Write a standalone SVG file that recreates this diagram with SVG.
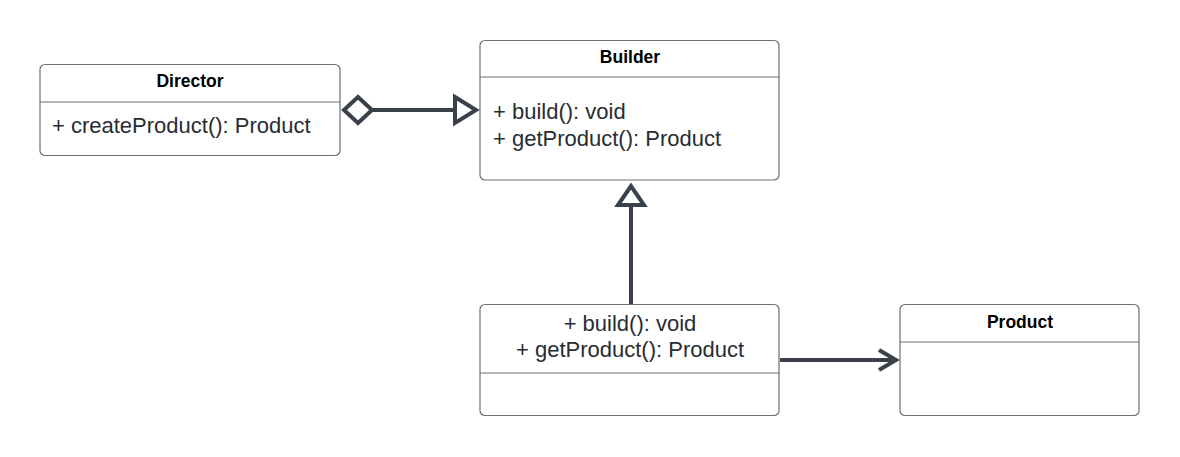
<svg xmlns="http://www.w3.org/2000/svg" width="1180" height="457" viewBox="0 0 1180 457">
<style>
.box{fill:#fff;stroke:#6b7078;stroke-width:1.2}
.div{stroke:#6b7078;stroke-width:1.2}
.title{font-family:"Liberation Sans",Arial,sans-serif;font-weight:bold;font-size:17.5px;fill:#000;text-anchor:middle}
.body{font-family:"Liberation Sans",Arial,sans-serif;font-size:22px;fill:#282c33}
.conn{fill:none;stroke:#3a414b;stroke-width:4;stroke-linejoin:miter}
</style>
<rect width="1180" height="457" fill="#fff"/>
<g id="director">
<rect class="box" x="40" y="64.5" width="300" height="91" rx="5"/>
<line class="div" x1="40" y1="102" x2="340" y2="102"/>
<text class="title" x="190" y="87">Director</text>
<text class="body" x="52" y="133">+ createProduct(): Product</text>
</g>
<g id="builder">
<rect class="box" x="480" y="40.5" width="299" height="139.5" rx="5"/>
<line class="div" x1="480" y1="77" x2="779" y2="77"/>
<text class="title" x="630" y="63">Builder</text>
<text class="body" x="493" y="119">+ build(): void</text>
<text class="body" x="493" y="146">+ getProduct(): Product</text>
</g>
<g id="concrete-builder">
<rect class="box" x="480" y="304.5" width="299" height="111" rx="5"/>
<line class="div" x1="480" y1="373" x2="779" y2="373"/>
<text class="body" x="630" y="331" text-anchor="middle">+ build(): void</text>
<text class="body" x="630" y="357" text-anchor="middle">+ getProduct(): Product</text>
</g>
<g id="product">
<rect class="box" x="900" y="304.5" width="239" height="111" rx="5"/>
<line class="div" x1="900" y1="342" x2="1139" y2="342"/>
<text class="title" x="1020" y="328">Product</text>
</g>
<g id="connectors">
<polygon class="conn" points="344,110 358,97 372,110 358,123"/>
<line class="conn" x1="372" y1="110" x2="455" y2="110"/>
<polygon class="conn" points="455,97 476,110 455,123"/>
<line class="conn" x1="631" y1="304" x2="631" y2="205"/>
<polygon class="conn" points="618,205 631,186 644,205"/>
<line class="conn" x1="780" y1="360" x2="895" y2="360"/>
<polyline class="conn" points="879,350 896,360 879,370"/>
</g>
</svg>
